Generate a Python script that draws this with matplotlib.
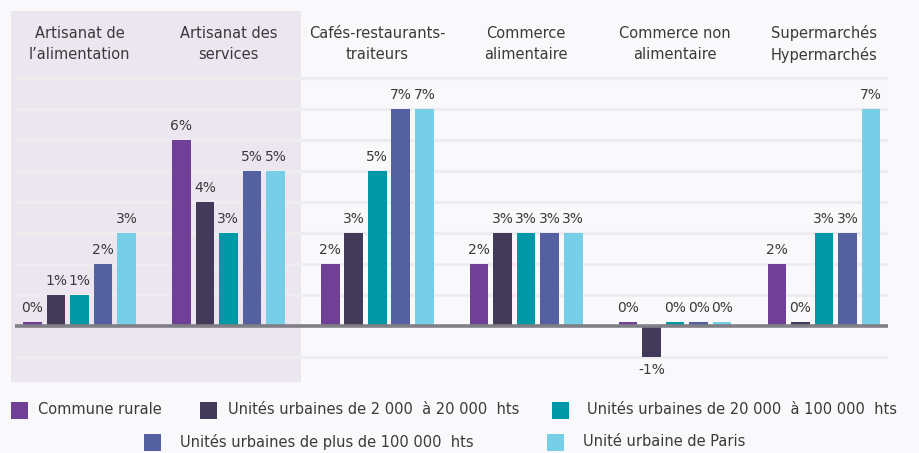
import matplotlib
matplotlib.use("Agg")
import matplotlib.pyplot as plt
from matplotlib.patches import Rectangle
import numpy as np

plt.rcParams['font.family'] = ['DejaVu Sans']

categories = ["Artisanat de\nl\u2019alimentation", "Artisanat des\nservices",
              "Caf\u00e9s-restaurants-\ntraiteurs", "Commerce\nalimentaire",
              "Commerce non\nalimentaire", "Supermarch\u00e9s\nHypermarch\u00e9s"]
series_names = ["Commune rurale",
                "Unit\u00e9s urbaines de 2 000  \u00e0 20 000  hts",
                "Unit\u00e9s urbaines de 20 000  \u00e0 100 000  hts",
                "Unit\u00e9s urbaines de plus de 100 000  hts",
                "Unit\u00e9 urbaine de Paris"]
commune_rurale = [0.15, 6, 2, 2, 0.15, 2]
uu_2000_20000 = [1, 4, 3, 3, -1, 0.15]
uu_20000_100000 = [1, 3, 5, 3, 0.15, 3]
uu_plus_100000 = [2, 5, 7, 3, 0.15, 3]
uu_paris = [3, 5, 7, 3, 0.15, 7]
series = [commune_rurale, uu_2000_20000, uu_20000_100000, uu_plus_100000, uu_paris]
colors = ["#703F96", "#433A5A", "#0097A7", "#5560A0", "#76CFE6"]

W, H = 919, 453
bg = "#F9F9FC"
txt = "#3A3A3A"
fig = plt.figure(figsize=(W / 100, H / 100), dpi=100, facecolor=bg)

ax_left, ax_right, ax_bottom, ax_top = 15, 888, 382, 11
ax = fig.add_axes([ax_left / W, (H - ax_bottom) / H, (ax_right - ax_left) / W, (ax_bottom - ax_top) / H])
ax.set_facecolor("none")
ax.set_xlim(-0.433, 5.43)
ax.set_ylim(-1.8, 10.16)
for s in ax.spines.values():
    s.set_visible(False)
ax.set_xticks([])
ax.set_yticks([])

# shaded region behind first two groups (figure pixel coords)
ax.add_patch(Rectangle((11 / W, (H - 382) / H), (301 - 11) / W, (382 - 11) / H,
                       transform=fig.transFigure, facecolor="#ECE6F1",
                       edgecolor="none", zorder=0, clip_on=False))

for g in range(-1, 9):
    if g == 0:
        continue
    ax.axhline(g, color="#EDEDF0", lw=2.2, zorder=1)
ax.axhline(0, color="#7F7F85", lw=2.6, zorder=4)

n = len(series)
step = 0.158
bw = 0.125
fs = 10
x = np.arange(len(categories))
for i, (vals, c) in enumerate(zip(series, colors)):
    xs = x + (i - (n - 1) / 2) * step
    ax.bar(xs, vals, width=bw, color=c, zorder=3)
    for xi, v in zip(xs, vals):
        lab = f"{int(round(v))}%"
        if v >= 0:
            ax.text(xi, v + 0.22, lab, ha="center", va="bottom", fontsize=fs, color=txt, zorder=5)
        else:
            ax.text(xi, v - 0.2, lab, ha="center", va="top", fontsize=fs, color=txt, zorder=5)

for xi, cat in zip(x, categories):
    ax.text(xi, 9.1, cat, ha="center", va="center", fontsize=10.5, color=txt,
            linespacing=1.5)

# legend
legend_items = [
    (11, 410, 0), (200, 410, 1), (552, 410, 2),
    (144, 442, 3), (547, 442, 4),
]
for px, py, k in legend_items:
    fig.patches.append(Rectangle((px / W, (H - py - 8.5) / H), 17 / W, 17 / H,
                                 transform=fig.transFigure, facecolor=colors[k],
                                 edgecolor="none"))
text_x = {0: 38, 1: 228, 2: 587, 3: 180, 4: 583}
for px, py, k in legend_items:
    fig.text(text_x[k] / W, (H - py) / H, series_names[k], ha="left", va="center",
             fontsize=10.5, color=txt)

fig.savefig("out.png", dpi=100, facecolor=bg)
